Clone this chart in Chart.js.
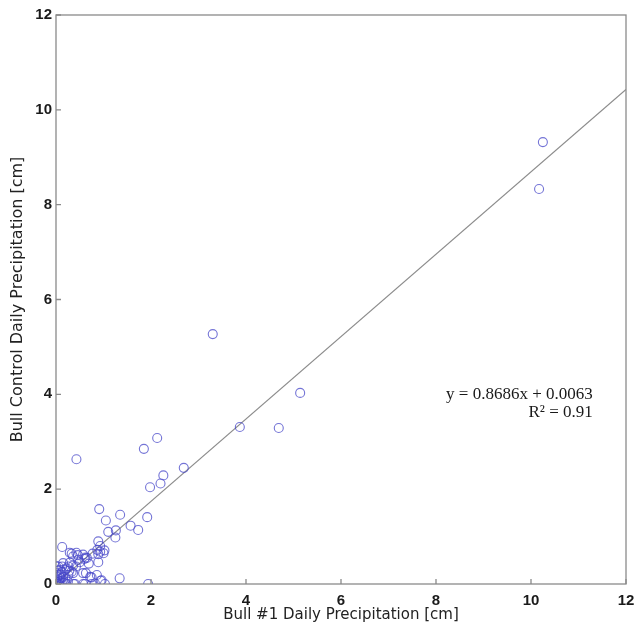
<!DOCTYPE html>
<html>
<head>
<meta charset="utf-8">
<script src="https://cdn.jsdelivr.net/npm/chart.js@4.4.1/dist/chart.umd.min.js"></script>
<style>
  body { margin: 0; background: #fff; }
  #wrap { width: 636px; height: 630px; position: relative; }
</style>
</head>
<body>
<div id="wrap"><canvas id="chart"></canvas></div>
<script>
// Datos (cm)
const bullOne = [
  10.25, 10.17, 3.30, 5.14, 3.87, 4.69,
  2.13, 1.85, 0.43, 2.69, 2.26, 2.20, 1.98,
  0.91, 1.35, 1.92, 1.05, 1.57, 1.73, 1.26, 1.10, 1.25, 0.89, 0.13, 0.93,
  0.87, 1.02, 1.00, 0.93, 0.89, 0.77, 0.62, 0.60, 0.65, 0.46, 0.33, 0.29,
  0.43, 0.57, 0.36, 0.47, 0.69, 0.89, 0.50, 0.15, 0.29, 0.42, 0.36, 0.26,
  0.13, 0.05, 0.00, 0.08, 0.22, 0.19, 0.33, 0.36, 0.00, 0.15, 0.26, 0.57,
  0.63, 0.72, 0.75, 0.86, 0.96, 0.94, 1.34, 1.94, 1.03, 0.82, 0.75, 0.61,
  0.57, 0.40, 0.37, 0.22,
  0.02, 0.05, 0.08, 0.10, 0.03, 0.12, 0.06, 0.00, 0.15, 0.18, 0.10, 0.04,
  0.20, 0.00, 0.12, 0.07, 0.25, 0.28
];
const bullControl = [
  9.32, 8.33, 5.27, 4.03, 3.31, 3.29,
  3.08, 2.85, 2.63, 2.45, 2.29, 2.12, 2.04,
  1.58, 1.46, 1.41, 1.34, 1.23, 1.14, 1.13, 1.10, 0.98, 0.90, 0.78, 0.80,
  0.72, 0.71, 0.65, 0.68, 0.63, 0.64, 0.56, 0.53, 0.55, 0.61, 0.64, 0.66,
  0.66, 0.62, 0.58, 0.51, 0.43, 0.46, 0.46, 0.44, 0.45, 0.37, 0.39, 0.37,
  0.37, 0.37, 0.38, 0.30, 0.33, 0.30, 0.26, 0.23, 0.23, 0.15, 0.19, 0.23,
  0.23, 0.15, 0.14, 0.19, 0.08, 0.07, 0.12, 0.00, 0.00, 0.01, 0.00, 0.00,
  0.00, 0.00, 0.00, 0.00,
  0.02, 0.08, 0.05, 0.12, 0.15, 0.03, 0.00, 0.06, 0.08, 0.02, 0.20, 0.28,
  0.10, 0.00, 0.25, 0.18, 0.05, 0.28
];

// Recta de ajuste
const fitSlope = 0.8686;
const fitIntercept = 0.0063;
const fitRange = [0, 12];

const xTicks = [0, 2, 4, 6, 8, 10, 12];
const yTicks = [0, 2, 4, 6, 8, 10, 12];
const eqLines = ['y = 0.8686x + 0.0063', 'R\u00b2 = 0.91'];
const eqAnchor = { x: 11.3, y: [4.0, 3.62] };

const AXIS_GREY = '#8a8a8a';

// Caja y ticks hacia dentro, más la ecuación
const framePlugin = {
  id: 'frame',
  afterDraw(chart) {
    const { ctx, chartArea: a, scales: { x, y } } = chart;
    ctx.save();
    ctx.strokeStyle = AXIS_GREY;
    ctx.lineWidth = 1.3;
    ctx.strokeRect(a.left, a.top, a.right - a.left, a.bottom - a.top);
    ctx.beginPath();
    xTicks.forEach(v => {
      const px = x.getPixelForValue(v);
      ctx.moveTo(px, a.bottom); ctx.lineTo(px, a.bottom - 5);
    });
    yTicks.forEach(v => {
      const py = y.getPixelForValue(v);
      ctx.moveTo(a.left, py); ctx.lineTo(a.left + 5, py);
    });
    ctx.stroke();

    ctx.fillStyle = '#1a1a1a';
    ctx.font = '17px "Liberation Serif", "DejaVu Serif", serif';
    ctx.textAlign = 'right';
    ctx.textBaseline = 'middle';
    eqLines.forEach((t, i) => {
      ctx.fillText(t, x.getPixelForValue(eqAnchor.x), y.getPixelForValue(eqAnchor.y[i]));
    });
    ctx.restore();
  }
};

const tickFont = { family: '"Liberation Sans", Arial, sans-serif', size: 15, weight: 'bold' };

new Chart(document.getElementById('chart'), {
  type: 'scatter',
  data: {
    datasets: [
      {
        label: 'Daily',
        data: bullOne.map((v, i) => ({ x: v, y: bullControl[i] })),
        pointStyle: 'circle',
        pointRadius: 4.5,
        pointHoverRadius: 4.5,
        backgroundColor: 'rgba(0,0,0,0)',
        borderColor: 'rgba(70,70,200,0.75)',
        borderWidth: 1.1
      },
      {
        type: 'line',
        label: 'Fit',
        data: fitRange.map(v => ({ x: v, y: fitSlope * v + fitIntercept })),
        borderColor: '#8c8c8c',
        borderWidth: 1.2,
        pointRadius: 0,
        fill: false
      }
    ]
  },
  options: {
    responsive: true,
    maintainAspectRatio: false,
    animation: false,
    layout: { padding: { top: 15, right: 10, left: 0, bottom: 0 } },
    plugins: { legend: { display: false }, tooltip: { enabled: false } },
    scales: {
      x: {
        type: 'linear', min: 0, max: 12,
        afterBuildTicks: s => { s.ticks = xTicks.map(v => ({ value: v })); },
        afterFit: s => { s.height = 46; s.paddingLeft = 0; s.paddingRight = 0; },
        grid: { display: false, drawTicks: false },
        border: { display: false },
        ticks: { color: '#1a1a1a', font: tickFont, padding: 8, maxRotation: 0 },
        title: {
          display: true, text: 'Bull #1 Daily Precipitation [cm]', color: '#222',
          font: { family: '"DejaVu Sans", Arial, sans-serif', size: 15 },
          padding: { top: 0, bottom: 6 }
        }
      },
      y: {
        type: 'linear', min: 0, max: 12,
        afterBuildTicks: s => { s.ticks = yTicks.map(v => ({ value: v })); },
        afterFit: s => { s.width = 56; s.paddingTop = 0; s.paddingBottom = 0; },
        grid: { display: false, drawTicks: false },
        border: { display: false },
        ticks: { color: '#1a1a1a', font: tickFont, padding: 4 },
        title: {
          display: true, text: 'Bull Control Daily Precipitation [cm]', color: '#222',
          font: { family: '"DejaVu Sans", Arial, sans-serif', size: 16 },
          padding: { top: 8, bottom: 0 }
        }
      }
    }
  },
  plugins: [framePlugin]
});
</script>
</body>
</html>
